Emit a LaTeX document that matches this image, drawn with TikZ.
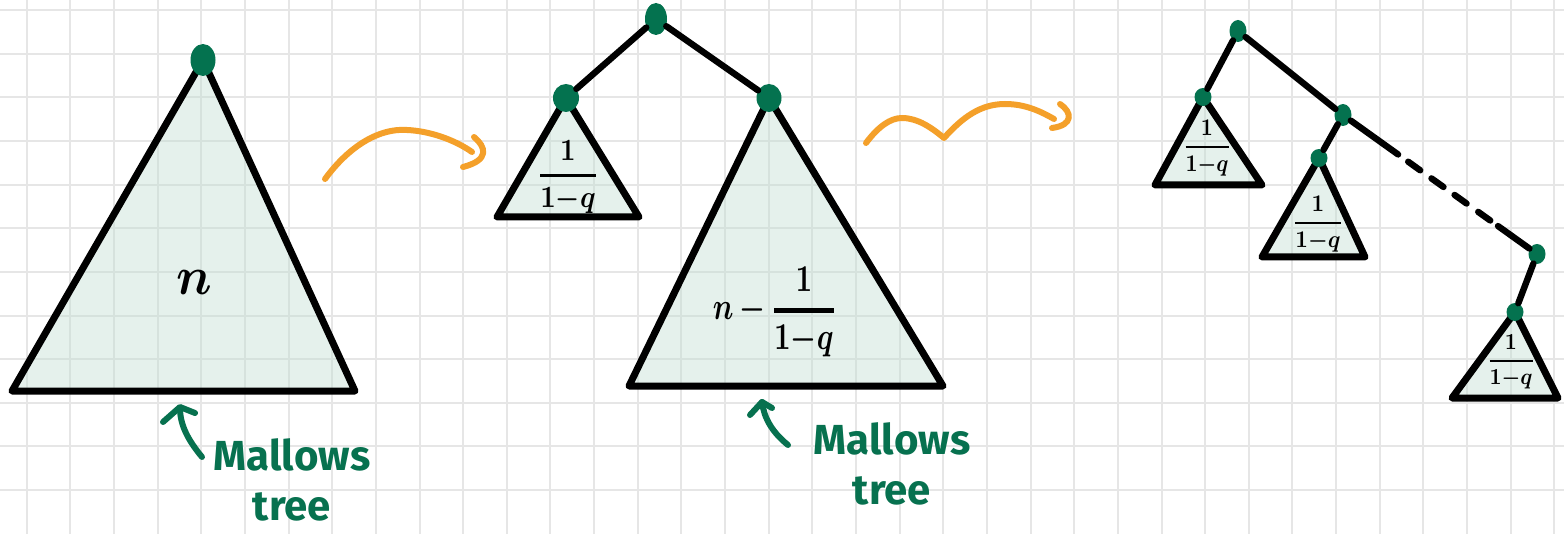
\documentclass[tikz,border=0pt]{standalone}
\usepackage{graphicx}
\usepackage{fontspec}
\newfontfamily\hand{Fira Sans}
\usetikzlibrary{shapes.geometric,calc}
\definecolor{gridc}{HTML}{E6E6E6}
\definecolor{trifill}{HTML}{C0DCD0}
\definecolor{dotg}{HTML}{04724F}
\definecolor{orng}{HTML}{F4A02A}
\definecolor{txtg}{HTML}{07714F}
\newcommand{\qfrac}{{\mathbf{1}\above1.1pt \mathbf{1}{-}q}}
\begin{document}
\begin{tikzpicture}[x=0.5pt,y=-0.5pt,
  gridline/.style={draw=gridc,line width=1pt},
  tri/.style={draw=black,line width=3.5pt,line join=round,line cap=round,fill=trifill,fill opacity=0.4},
  edge/.style={draw=black,line width=3.2pt,line cap=round},
  dotn/.style 2 args={ellipse,fill=dotg,inner sep=0pt,minimum width=#1,minimum height=#2},
  squig/.style={draw=orng,line width=3pt,line cap=round,line join=round},
  garrow/.style={draw=txtg,line width=3pt,line cap=round,line join=round},
  lbl/.style={text=txtg,font=\hand\bfseries\fontsize{21}{25}\selectfont,align=center,inner sep=0pt},
  mth/.style={inner sep=0pt,font=\boldmath}]
\useasboundingbox (0,0) rectangle (1564,534);
\fill[white] (0,0) rectangle (1564,534);
% grid
\foreach \i in {0,...,35} \draw[gridline] ({26.7+43.646*\i},0) -- ++(0,534);
\foreach \j in {0,...,11} \draw[gridline] (0,{10+43.646*\j}) -- ++(1564,0);
% coordinates of nodes (dots)
\coordinate (p1) at (203,60);
\coordinate (p2r) at (656,19);
\coordinate (p2a) at (566,98);
\coordinate (p2b) at (769,98);
\coordinate (pR) at (1238,31);
\coordinate (pA) at (1203,97);
\coordinate (pB) at (1343,115);
\coordinate (pC) at (1319,158);
\coordinate (pD) at (1537,254);
\coordinate (pE) at (1515,312);
% triangles
\draw[tri] (p1) -- (12,391) -- (355,391) -- cycle;
\draw[tri] (p2a) -- (497,217) -- (639,217) -- cycle;
\draw[tri] (p2b) -- (629,386) -- (943,386) -- cycle;
\draw[tri] (pA) -- (1155,185) -- (1262,185) -- cycle;
\draw[tri] (pC) -- (1262,257) -- (1365,257) -- cycle;
\draw[tri] (pE) -- (1452,398) -- (1558,398) -- cycle;
% dots
\node[dotn={12.5pt}{16pt}] (d1) at (p1) {};
\node[dotn={11pt}{16pt}] (r2) at (p2r) {};
\node[dotn={13pt}{14pt}] (a2) at (p2a) {};
\node[dotn={12.5pt}{14pt}] (b2) at (p2b) {};
\node[dotn={8.5pt}{11pt}] (R) at (pR) {};
\node[dotn={8.5pt}{9pt}] (A) at (pA) {};
\node[dotn={8.5pt}{11pt}] (B) at (pB) {};
\node[dotn={8.5pt}{9pt}] (C) at (pC) {};
\node[dotn={8.5pt}{10pt}] (D) at (pD) {};
\node[dotn={8.5pt}{9pt}] (E) at (pE) {};
% edges
\draw[edge] (r2) -- (a2);
\draw[edge] (r2) -- (b2);
\draw[edge] (R) -- (A);
\draw[edge] (R) -- (B);
\draw[edge] (B) -- (C);
\draw[edge] (D) -- (E);
\draw[edge] (B) -- ($(pB)!0.284!(pD)$);
\foreach \s in {0.336,0.456,0.575,0.697}
  \draw[edge] ($(pB)!\s!(pD)$) -- ($(pB)!{\s+0.062}!(pD)$);
\draw[edge] ($(pB)!0.799!(pD)$) -- (D);
% texts
\node[mth] (tn) at (194,283) {\scalebox{2.5}[2.7]{$n$}};
\node[mth] (tf1) at (568,177) {\scalebox{1.35}[1.55]{$\displaystyle\qfrac$}};
\node[mth] (tf2) at (775,312) {\scalebox{1.45}[1.9]{$\displaystyle n\,{-}\,\qfrac$}};
\node[mth] (tf3) at (1207,148) {\scalebox{1.05}[1.2]{$\displaystyle\qfrac$}};
\node[mth] (tf4) at (1318,224) {\scalebox{1.1}[1.2]{$\displaystyle\qfrac$}};
\node[mth] (tf5) at (1511,362) {\scalebox{1.05}[1.15]{$\displaystyle\qfrac$}};
% labels
\node[lbl,anchor=north] (L1) at (292,438) {Mallows\\tree};
\node[lbl,anchor=north] (L2) at (892,422) {Mallows\\tree};
% green arrows
\draw[garrow] (202,457) .. controls (188,440) and (180,425) .. (180,408);
\draw[garrow] (163,422) -- (180,407) -- (195,413);
\draw[garrow] (788,445) .. controls (772,432) and (764,418) .. (762,402);
\draw[garrow] (750,415) -- (762,402) -- (772,408);
% orange squiggly arrows
\draw[squig] (325,179) .. controls (350,145) and (380,128) .. (407,130)
  .. controls (430,131) and (455,140) .. (472,152);
\draw[squig] (474,137) .. controls (486,147) and (490,160) .. (463,167);
\draw[squig] (866,143) .. controls (878,127) and (890,118) .. (902,118)
  .. controls (918,118) and (932,128) .. (944,138)
  .. controls (962,118) and (980,104) .. (1005,104)
  .. controls (1025,104) and (1040,111) .. (1054,119);
\draw[squig] (1060,104) .. controls (1072,112) and (1074,125) .. (1052,128);
\end{tikzpicture}
\end{document}
